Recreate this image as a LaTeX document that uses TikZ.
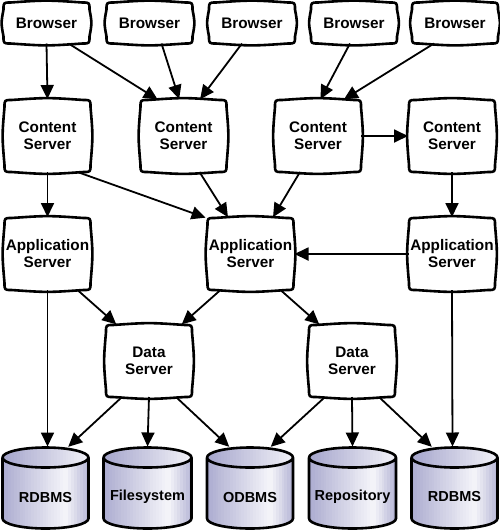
\documentclass[tikz,border=0pt]{standalone}
\usepackage{fontspec}
\setmainfont{Liberation Sans}
\usetikzlibrary{arrows.meta,calc}
\definecolor{lavdark}{RGB}{172,172,208}
\definecolor{lavlight}{RGB}{246,246,250}
\definecolor{lavtop}{RGB}{165,165,204}
\definecolor{lavtopr}{RGB}{242,242,248}
\tikzset{
  box/.style={minimum width=86pt, minimum height=72pt, inner sep=0pt, outer sep=0pt},
  brow/.style={box, minimum height=41pt},
  cyl/.style={minimum width=86pt, minimum height=81pt, inner sep=0pt, outer sep=0pt},
  boxline/.style={line width=2.6pt, line join=round, fill=white},
  arr/.style={line width=1.8pt, -{Triangle[length=14pt,width=13pt]}, shorten >=1pt},
  lbl/.style={font=\fontsize{15.3}{17}\selectfont\bfseries, align=center},
  clbl/.style={font=\fontsize{14.5}{16}\selectfont\bfseries},
}
\newcommand\tvshape[1]{%
  \draw[boxline] ([xshift=7pt]#1.north west) .. controls ([yshift=2.5pt]#1.north) .. ([xshift=-7pt]#1.north east)
   .. controls (#1.north east) .. ([yshift=-7pt]#1.north east)
   .. controls ([xshift=2.5pt]#1.east) .. ([yshift=7pt]#1.south east)
   .. controls (#1.south east) .. ([xshift=-7pt]#1.south east)
   .. controls ([yshift=-2.5pt]#1.south) .. ([xshift=7pt]#1.south west)
   .. controls (#1.south west) .. ([yshift=7pt]#1.south west)
   .. controls ([xshift=-2.5pt]#1.west) .. ([yshift=-7pt]#1.north west)
   .. controls (#1.north west) .. cycle;}
\newcommand\cylshape[1]{%
  \begin{scope}
    \clip let \p1=(#1.north west), \p2=(#1.south east), \n1={(\x2-\x1)/2} in
      (\x1,\y1-10pt) -- (\x1,\y2+10pt) arc[start angle=180, end angle=360, x radius=\n1, y radius=10pt]
      -- (\x2,\y1-10pt) -- cycle;
    \foreach \i in {0,...,29}{
      \pgfmathsetmacro\cta{\i/30}
      \pgfmathsetmacro\ctb{(\i+1.4)/30}
      \pgfmathsetmacro\ctm{(\i+0.5)/30}
      \pgfmathtruncatemacro\cpc{(\ctm<0.74) ? (100*\ctm/0.74) : (100*(1-(\ctm-0.74)/0.30))}
      \fill[lavlight!\cpc!lavdark] ($(#1.north west)!\cta!(#1.north east)$) rectangle ($(#1.south west)!\ctb!(#1.south east)$);
    }
  \end{scope}
  \begin{scope}
    \clip let \p1=(#1.north west), \p2=(#1.south east), \n1={(\x2-\x1)/2} in
      ($(#1.north)+(0,-10pt)$) ellipse[x radius=\n1, y radius=10pt];
    \foreach \i in {0,...,29}{
      \pgfmathsetmacro\cta{\i/30}
      \pgfmathsetmacro\ctb{(\i+1.4)/30}
      \pgfmathtruncatemacro\cpc{100*(\i+0.5)/30}
      \fill[lavtopr!\cpc!lavtop] ($(#1.north west)!\cta!(#1.north east)$) rectangle ($(#1.south west)!\ctb!(#1.south east)$);
    }
  \end{scope}
  \draw[line width=2.6pt, line join=round] let \p1=(#1.north west), \p2=(#1.south east), \n1={(\x2-\x1)/2} in
    (\x1,\y1-10pt) -- (\x1,\y2+10pt) arc[start angle=180, end angle=360, x radius=\n1, y radius=10pt]
    -- (\x2,\y1-10pt) arc[start angle=0, end angle=180, x radius=\n1, y radius=10pt]
    arc[start angle=180, end angle=360, x radius=\n1, y radius=10pt];
}
\begin{document}
\begin{tikzpicture}[x=1pt,y=-1pt]
\useasboundingbox (0,0) rectangle (500,531);
% browsers
\node[brow] (b1) at (46.5,23) {};
\node[brow] (b2) at (149.5,23) {};
\node[brow] (b3) at (252,23) {};
\node[brow] (b4) at (354,23) {};
\node[brow] (b5) at (455,23) {};
% content servers
\node[box] (c1) at (47.5,136) {};
\node[box] (c2) at (183.5,136) {};
\node[box] (c3) at (318,136) {};
\node[box] (c4) at (452,136) {};
% application servers
\node[box] (a1) at (47.5,254) {};
\node[box] (a2) at (250.5,254) {};
\node[box] (a3) at (452,254) {};
% data servers
\node[box] (d1) at (149,361) {};
\node[box] (d2) at (352,361) {};
% databases
\node[cyl] (r1) at (45.5,488) {};
\node[cyl, minimum width=88pt] (fs) at (147.5,488) {};
\node[cyl] (od) at (250,488) {};
\node[cyl, minimum width=87pt] (rp) at (352.5,488) {};
\node[cyl] (r2) at (454.5,488) {};
\foreach \nm in {b1,b2,b3,b4,b5,c1,c2,c3,c4,a1,a2,a3,d1,d2}{\tvshape{\nm}}
\foreach \nm in {r1,fs,od,rp,r2}{\cylshape{\nm}}
% labels
\foreach \nm in {b1,b2,b3,b4,b5}{\node[lbl] at (\nm) {Browser};}
\foreach \nm in {c1,c2,c3,c4}{\node[lbl] at (\nm) {Content\\Server};}
\foreach \nm in {a1,a2,a3}{\node[lbl] at (\nm) {Application\\Server};}
\foreach \nm in {d1,d2}{\node[lbl] at (\nm) {Data\\Server};}
\node[clbl] at ($(r1)+(0,10)$) {RDBMS};
\node[clbl] at ($(fs)+(0,9)$) {Filesystem};
\node[clbl] at ($(od)+(0,10)$) {ODBMS};
\node[clbl] at ($(rp)+(0,9)$) {Repository};
\node[clbl] at ($(r2)+(0,9)$) {RDBMS};
% connectors
\draw[arr] (b1.south) -- (c1.north);
\draw[arr] ([xshift=22pt]b1.south) -- ([xshift=-25pt]c2.north);
\draw[arr] ([xshift=12pt]b2.south) -- ([xshift=-4pt]c2.north);
\draw[arr] ([xshift=-10pt]b3.south) -- ([xshift=16pt]c2.north);
\draw[arr] ([xshift=-4pt]b4.south) -- ([xshift=2pt]c3.north);
\draw[arr] ([xshift=-21pt]b5.south) -- ([xshift=25pt]c3.north);
\draw[arr] (c3.east) -- (c4.west);
\draw[arr] (c1.south) -- (a1.north);
\draw[arr] ([xshift=30pt]c1.south) -- ([xshift=-44pt]a2.north);
\draw[arr] ([xshift=16pt]c2.south) -- ([xshift=-22pt]a2.north);
\draw[arr] ([xshift=-18pt]c3.south) -- ([xshift=22pt]a2.north);
\draw[arr] (c4.south) -- (a3.north);
\draw[arr] (a3.west) -- (a2.east);
\draw[arr] ([xshift=30pt]a1.south) -- ([xshift=-32pt]d1.north);
\draw[arr] ([xshift=-30pt]a2.south) -- ([xshift=32pt]d1.north);
\draw[arr] ([xshift=30pt]a2.south) -- ([xshift=-32pt]d2.north);
\draw[arr] (a1.south) -- ([xshift=2pt]r1.north);
\draw[arr] ([xshift=-27pt]d1.south) -- ([xshift=22pt]r1.north);
\draw[arr] (d1.south) -- (fs.north);
\draw[arr] ([xshift=27pt]d1.south) -- ([xshift=-20pt]od.north);
\draw[arr] ([xshift=-27pt]d2.south) -- ([xshift=20pt]od.north);
\draw[arr] (d2.south) -- (rp.north);
\draw[arr] ([xshift=27pt]d2.south) -- ([xshift=-22pt]r2.north);
\draw[arr] (a3.south) -- ([xshift=-2pt]r2.north);
\end{tikzpicture}
\end{document}
